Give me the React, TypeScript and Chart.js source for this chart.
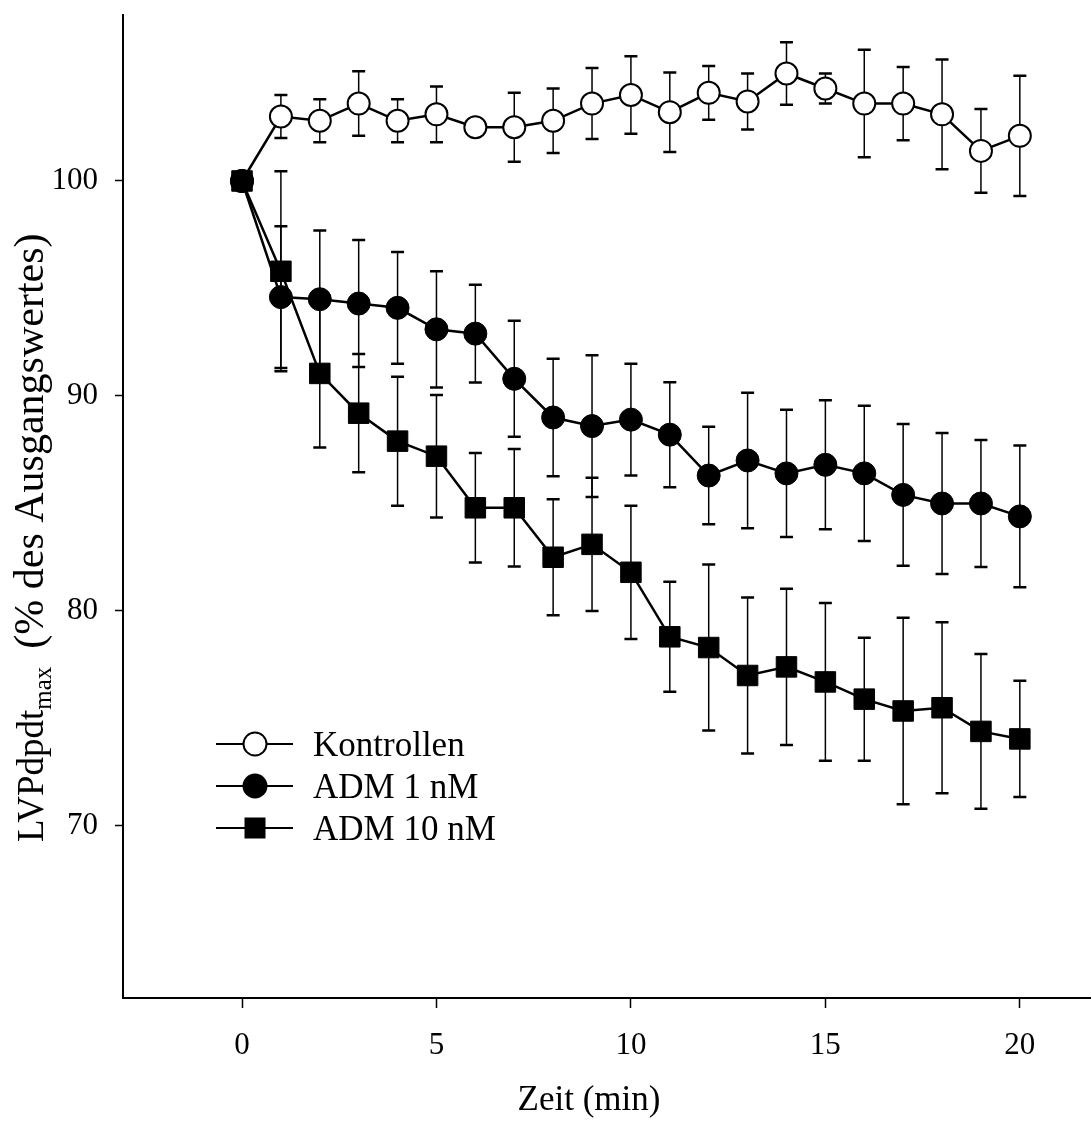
import React, { useEffect, useRef } from "react";
import { Chart, registerables } from "chart.js";

Chart.register(...registerables);

// ---------- data ----------
const timeMin = [0, 1, 2, 3, 4, 5, 6, 7, 8, 9, 10, 11, 12, 13, 14, 15, 16, 17, 18, 19, 20];

const seriesLabels = ["Kontrollen", "ADM 1 nM", "ADM 10 nM"];

const kontrollen = [100, 103.0, 102.8, 103.6, 102.8, 103.1, 102.5, 102.5, 102.8, 103.6, 104.0, 103.2, 104.1, 103.7, 105.0, 104.3, 103.6, 103.6, 103.1, 101.4, 102.1];
const kontrollenErr = [0, 1.0, 1.0, 1.5, 1.0, 1.3, 0.4, 1.6, 1.5, 1.65, 1.8, 1.85, 1.25, 1.3, 1.45, 0.7, 2.5, 1.7, 2.55, 1.95, 2.8];

const adm1 = [100, 94.6, 94.5, 94.3, 94.1, 93.1, 92.9, 90.8, 89.0, 88.6, 88.9, 88.2, 86.3, 87.0, 86.4, 86.8, 86.4, 85.4, 85.0, 85.0, 84.4];
const adm1Err = [0, 3.3, 3.2, 2.95, 2.6, 2.7, 2.27, 2.7, 2.73, 3.3, 2.6, 2.44, 2.27, 3.15, 2.96, 3.0, 3.15, 3.3, 3.28, 2.95, 3.3];

const adm10 = [100, 95.8, 91.05, 89.2, 87.9, 87.2, 84.8, 84.8, 82.5, 83.1, 81.8, 78.8, 78.3, 77.0, 77.4, 76.7, 75.9, 75.35, 75.5, 74.4, 74.05];
const adm10Err = [0, 4.65, 3.45, 2.75, 3.0, 2.85, 2.55, 2.73, 2.7, 3.1, 3.1, 2.56, 3.86, 3.63, 3.63, 3.67, 2.86, 4.34, 3.98, 3.6, 2.7];

const xTicks = [0, 5, 10, 15, 20];
const yTicks = [70, 80, 90, 100];

const xTitle = "Zeit (min)";
const yTitleMain = "LVPdpdt";
const yTitleSub = "max";
const yTitleRest = "(% des Ausgangswertes)";

const FONT = '"Liberation Serif", "Times New Roman", serif';

// ---------- plugins ----------
const errorBarPlugin = {
  id: "errorBars",
  beforeDatasetsDraw(chart: any) {
    const ctx = chart.ctx;
    const yScale = chart.scales.y;
    ctx.save();
    ctx.strokeStyle = "#000";
    chart.data.datasets.forEach((ds: any, di: number) => {
      const errs: number[] = ds.errors;
      if (!errs) return;
      const meta = chart.getDatasetMeta(di);
      meta.data.forEach((pt: any, i: number) => {
        const e = errs[i];
        if (!e) return;
        const v = ds.data[i].y;
        const top = yScale.getPixelForValue(v + e);
        const bot = yScale.getPixelForValue(v - e);
        const x = pt.x;
        ctx.lineWidth = 1.5;
        ctx.beginPath();
        ctx.moveTo(x, top);
        ctx.lineTo(x, bot);
        ctx.stroke();
        ctx.lineWidth = 2.5;
        ctx.beginPath();
        ctx.moveTo(x - 6.5, top);
        ctx.lineTo(x + 6.5, top);
        ctx.moveTo(x - 6.5, bot);
        ctx.lineTo(x + 6.5, bot);
        ctx.stroke();
      });
    });
    ctx.restore();
  },
};

const textPlugin = {
  id: "customTexts",
  afterDraw(chart: any) {
    const ctx = chart.ctx;
    ctx.save();
    ctx.fillStyle = "#000";

    // x-axis title
    ctx.font = `35px ${FONT}`;
    ctx.textAlign = "center";
    ctx.textBaseline = "alphabetic";
    ctx.fillText(xTitle, 589, 1110);

    // y-axis title (rotated, with subscript)
    ctx.save();
    ctx.translate(43, 842);
    ctx.rotate(-Math.PI / 2);
    ctx.textAlign = "left";
    ctx.textBaseline = "alphabetic";
    ctx.font = `37px ${FONT}`;
    ctx.fillText(yTitleMain, 0, 0);
    const w1 = ctx.measureText(yTitleMain).width;
    ctx.font = `25px ${FONT}`;
    ctx.fillText(yTitleSub, w1, 8);
    const w2 = ctx.measureText(yTitleSub).width;
    ctx.font = `42px ${FONT}`;
    ctx.fillText(yTitleRest, w1 + w2 + 18, 0);
    ctx.restore();

    // legend
    const rows = [744, 786, 828];
    const styles = ["openCircle", "filledCircle", "square"];
    seriesLabels.forEach((label, i) => {
      const y = rows[i];
      ctx.strokeStyle = "#000";
      ctx.lineWidth = 2;
      ctx.beginPath();
      ctx.moveTo(216, y);
      ctx.lineTo(293, y);
      ctx.stroke();
      const cx = 255;
      if (styles[i] === "square") {
        ctx.fillStyle = "#000";
        ctx.fillRect(cx - 10.5, y - 10.5, 21, 21);
      } else {
        ctx.beginPath();
        ctx.arc(cx, y, 11.5, 0, Math.PI * 2);
        ctx.fillStyle = styles[i] === "openCircle" ? "#fff" : "#000";
        ctx.fill();
        ctx.lineWidth = 2;
        ctx.stroke();
      }
      ctx.fillStyle = "#000";
      ctx.font = `35px ${FONT}`;
      ctx.textAlign = "left";
      ctx.textBaseline = "alphabetic";
      ctx.fillText(label, 313, y + 12);
    });

    ctx.restore();
  },
};

function toPoints(values: number[]) {
  return timeMin.map((t, i) => ({ x: t, y: values[i] }));
}

export default function App() {
  const canvasRef = useRef<HTMLCanvasElement | null>(null);

  useEffect(() => {
    if (!canvasRef.current) return;
    const chart = new Chart(canvasRef.current, {
      type: "line",
      data: {
        datasets: [
          {
            label: seriesLabels[0],
            data: toPoints(kontrollen),
            errors: kontrollenErr,
            borderColor: "#000",
            borderWidth: 2.5,
            tension: 0,
            pointStyle: "circle",
            pointRadius: 11,
            pointBackgroundColor: "#fff",
            pointBorderColor: "#000",
            pointBorderWidth: 2,
            order: 2,
          } as any,
          {
            label: seriesLabels[1],
            data: toPoints(adm1),
            errors: adm1Err,
            borderColor: "#000",
            borderWidth: 2.5,
            tension: 0,
            pointStyle: "circle",
            pointRadius: 11.5,
            pointBackgroundColor: "#000",
            pointBorderColor: "#000",
            pointBorderWidth: 1,
            order: 1,
          } as any,
          {
            label: seriesLabels[2],
            data: toPoints(adm10),
            errors: adm10Err,
            borderColor: "#000",
            borderWidth: 2.5,
            tension: 0,
            pointStyle: "rect",
            pointRadius: 14.5,
            pointBackgroundColor: "#000",
            pointBorderColor: "#000",
            pointBorderWidth: 1,
            order: 0,
          } as any,
        ],
      },
      options: {
        animation: false,
        responsive: true,
        maintainAspectRatio: false,
        layout: { autoPadding: false, padding: { top: 15, left: 0, right: 0, bottom: 0 } },
        plugins: {
          legend: { display: false },
          tooltip: { enabled: false },
        },
        scales: {
          x: {
            type: "linear",
            min: -3.06,
            max: 21.83,
            afterBuildTicks: (axis: any) => {
              axis.ticks = xTicks.map((v) => ({ value: v }));
            },
            afterFit: (axis: any) => {
              axis.height = 123;
              axis.paddingLeft = 0;
              axis.paddingRight = 0;
            },
            grid: {
              display: true,
              drawOnChartArea: false,
              drawTicks: true,
              tickLength: 10,
              tickColor: "#000",
              tickWidth: 1.5,
            },
            border: { display: true, color: "#000", width: 2 },
            ticks: {
              color: "#000",
              font: { family: FONT, size: 31 },
              padding: 19,
              maxRotation: 0,
              autoSkip: false,
            },
          },
          y: {
            type: "linear",
            min: 62,
            max: 107.72,
            afterBuildTicks: (axis: any) => {
              axis.ticks = yTicks.map((v) => ({ value: v }));
            },
            afterFit: (axis: any) => {
              axis.width = 123;
              axis.paddingTop = 0;
              axis.paddingBottom = 0;
            },
            grid: {
              display: true,
              drawOnChartArea: false,
              drawTicks: true,
              tickLength: 8,
              tickColor: "#000",
              tickWidth: 1.5,
            },
            border: { display: true, color: "#000", width: 2 },
            ticks: {
              color: "#000",
              font: { family: FONT, size: 31 },
              padding: 17,
              autoSkip: false,
            },
          },
        },
      } as any,
      plugins: [errorBarPlugin, textPlugin],
    });
    return () => chart.destroy();
  }, []);

  return (
    <div style={{ position: "absolute", left: 0, top: 0, width: 1091, height: 1121, background: "#fff" }}>
      <canvas ref={canvasRef} />
    </div>
  );
}
